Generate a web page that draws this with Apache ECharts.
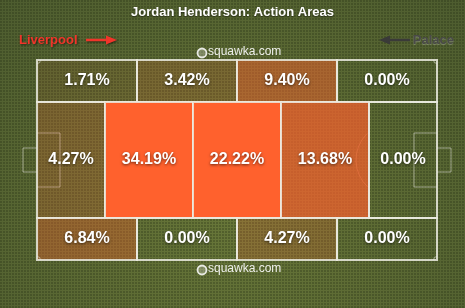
<!DOCTYPE html>
<html>
<head>
<meta charset="utf-8">
<script src="https://cdn.jsdelivr.net/npm/echarts@6/dist/echarts.min.js"></script>
<style>
html,body{margin:0;padding:0;}
#chart{width:465px;height:308px;
background:
 radial-gradient(circle at 1px 1px, rgba(30,40,15,0.28) 0.8px, rgba(0,0,0,0) 1.2px) 0 0/3px 3px,
 radial-gradient(ellipse at 50% 70%, #687739 0%, #5d6b34 45%, #4d5c2f 100%);}
</style>
</head>
<body>
<div id="chart"></div>
<script>
// ---- data ----
const title = 'Jordan Henderson: Action Areas';
const homeTeam = 'Liverpool';
const awayTeam = 'Palace';
const topValues = [1.71, 3.42, 9.40, 0.00];
const midValues = [4.27, 34.19, 22.22, 13.68, 0.00];
const bottomValues = [6.84, 0.00, 4.27, 0.00];
const outerEdges = [0, 25, 50, 75, 100];
const midEdges = [0, 17, 39, 61, 83, 100];
const rowEdges = [0, 21, 79, 100];

function rowCells(values, edges, y0, y1) {
  return values.map((v, i) => [edges[i], edges[i + 1], y0, y1, v]);
}
const cellData = [].concat(
  rowCells(topValues, outerEdges, rowEdges[0], rowEdges[1]),
  rowCells(midValues, midEdges, rowEdges[1], rowEdges[2]),
  rowCells(bottomValues, outerEdges, rowEdges[2], rowEdges[3])
);

const chart = echarts.init(document.getElementById('chart'), null, {renderer: 'canvas'});
const LINE = 'rgba(235,235,225,0.85)';
const FAINT = 'rgba(230,230,220,0.55)';
const FONT = 'Liberation Sans, Arial, sans-serif';

function cellFill(v) {
  const a = Math.min(1, v / 20);
  return 'rgba(255,97,45,' + a.toFixed(3) + ')';
}

const option = {
  backgroundColor: 'transparent',
  animation: false,
  grid: {left: 37, top: 60, width: 400, height: 200, containLabel: false},
  xAxis: {type: 'value', min: 0, max: 100, show: false},
  yAxis: {type: 'value', min: 0, max: 100, inverse: true, show: false},
  title: {
    text: title, left: 'center', top: 1,
    textStyle: {color: '#fff', fontSize: 13, fontWeight: 'bold', fontFamily: FONT,
      textShadowColor: 'rgba(0,0,0,0.6)', textShadowBlur: 2, textShadowOffsetY: 1}
  },
  graphic: [
    {type: 'text', left: 19, top: 34, style: {text: homeTeam, fill: '#f0352a', font: 'bold 13px ' + FONT,
      textShadowColor: 'rgba(0,0,0,0.55)', textShadowBlur: 2, textShadowOffsetX: 1, textShadowOffsetY: 1}},
    {type: 'line', shape: {x1: 86, y1: 40, x2: 108, y2: 40}, style: {stroke: '#f0352a', lineWidth: 2.5,
      shadowColor: 'rgba(0,0,0,0.5)', shadowBlur: 2, shadowOffsetX: 1, shadowOffsetY: 1}},
    {type: 'polygon', shape: {points: [[117, 40], [106, 35.5], [106, 44.5]]}, style: {fill: '#f0352a',
      shadowColor: 'rgba(0,0,0,0.5)', shadowBlur: 2, shadowOffsetX: 1, shadowOffsetY: 1}},
    {type: 'text', right: 11, top: 34, style: {text: awayTeam, fill: '#4a4a48', font: 'bold 13px ' + FONT,
      textShadowColor: 'rgba(150,160,130,0.7)', textShadowBlur: 1, textShadowOffsetY: 1}},
    {type: 'line', shape: {x1: 387, y1: 40, x2: 410, y2: 40}, style: {stroke: '#3a3a38', lineWidth: 2.5}},
    {type: 'polygon', shape: {points: [[379, 40], [390, 35.5], [390, 44.5]]}, style: {fill: '#3a3a38'}},
    // squawka watermarks
    {type: 'circle', shape: {cx: 202, cy: 53, r: 4.5}, style: {fill: 'rgba(255,255,255,0.25)', stroke: 'rgba(255,255,255,0.85)', lineWidth: 1.8}},
    {type: 'text', left: 208, top: 46, style: {text: 'squawka.com', fill: 'rgba(255,255,255,0.9)', font: '12px ' + FONT}},
    {type: 'circle', shape: {cx: 202, cy: 270, r: 4.5}, style: {fill: 'rgba(255,255,255,0.25)', stroke: 'rgba(255,255,255,0.85)', lineWidth: 1.8}},
    {type: 'text', left: 208, top: 263, style: {text: 'squawka.com', fill: 'rgba(255,255,255,0.9)', font: '12px ' + FONT}}
  ],
  series: [
    {
      // pitch markings underneath cells
      type: 'custom', z: 1, silent: true,
      data: [[0]],
      renderItem: function (params, api) {
        const c = (x, y) => api.coord([x, y]);
        const pts = (arr) => arr.map(p => c(p[0], p[1]));
        const centre = c(89, 50);
        const children = [
          {type: 'polyline', shape: {points: pts([[0, 36.5], [5.75, 36.5], [5.75, 63.5], [0, 63.5]])}, style: {stroke: FAINT, lineWidth: 1, fill: null}},
          {type: 'polyline', shape: {points: pts([[0, 44], [-3.5, 44], [-3.5, 56], [0, 56]])}, style: {stroke: FAINT, lineWidth: 1, fill: null}},
          {type: 'polyline', shape: {points: pts([[100, 36.5], [94.25, 36.5], [94.25, 63.5], [100, 63.5]])}, style: {stroke: FAINT, lineWidth: 1, fill: null}},
          {type: 'polyline', shape: {points: pts([[100, 44], [103.5, 44], [103.5, 56], [100, 56]])}, style: {stroke: FAINT, lineWidth: 1, fill: null}},
          {type: 'arc', shape: {cx: centre[0], cy: centre[1], r: 37, startAngle: Math.PI * 0.74, endAngle: Math.PI * 1.26}, style: {stroke: 'rgba(255,200,170,0.35)', lineWidth: 1, fill: null}}
        ];
        return {type: 'group', children: children};
      }
    },
    {
      type: 'custom', z: 2, silent: true,
      data: cellData,
      renderItem: function (params, api) {
        const p0 = api.coord([api.value(0), api.value(2)]);
        const p1 = api.coord([api.value(1), api.value(3)]);
        const v = api.value(4);
        return {
          type: 'rect',
          shape: {x: p0[0], y: p0[1], width: p1[0] - p0[0], height: p1[1] - p0[1]},
          style: {fill: cellFill(v), stroke: LINE, lineWidth: 2},
          textContent: {
            style: {text: v.toFixed(2) + '%', fill: '#fff', font: 'bold 16px ' + FONT,
              textShadowColor: 'rgba(0,0,0,0.6)', textShadowBlur: 3, textShadowOffsetY: 1}
          },
          textConfig: {position: 'inside'}
        };
      }
    },
    {
      // corner marks
      type: 'custom', z: 3, silent: true,
      data: [[0, 0, 0], [100, 0, 1], [0, 100, 2], [100, 100, 3]],
      renderItem: function (params, api) {
        const p = api.coord([api.value(0), api.value(1)]);
        const k = api.value(2);
        const angles = [[0, 0.5], [0.5, 1], [1.5, 2], [1, 1.5]][k];
        return {type: 'arc', shape: {cx: p[0], cy: p[1], r: 3.5, startAngle: angles[0] * Math.PI, endAngle: angles[1] * Math.PI},
          style: {stroke: FAINT, lineWidth: 1, fill: null}};
      }
    }
  ]
};
chart.setOption(option);
</script>
</body>
</html>
